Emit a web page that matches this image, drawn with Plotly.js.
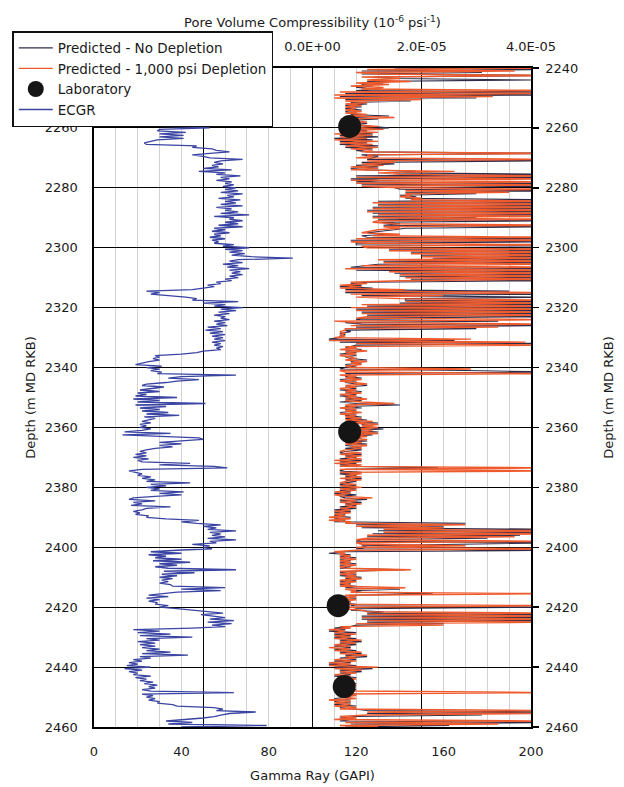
<!DOCTYPE html>
<html><head><meta charset="utf-8">
<script src="https://cdn.plot.ly/plotly-3.0.1.min.js"></script>
<style>html,body{margin:0;padding:0;background:#fff}#chart{width:624px;height:787px}</style>
</head><body><div id="chart"></div>
<script>
// Gamma ray log (GAPI), sampled every 0.5 m starting at 2255 m
const grTopDepth = 2255;
const grStep = 0.5;
const gammaRay = [
26,24,27,25,
24,27,29,26,29,31,53,30,
29,42,30,41,30,41,29,25,
23,24,47,45,54,56,62,53,
45,50,53,68,58,55,59,54,
57,50,63,48,60,56,67,58,
62,56,63,60,64,59,65,60,
66,58,68,61,64,57,67,60,
65,58,68,56,63,60,66,58,
71,55,64,62,68,60,66,57,
68,55,60,54,62,55,58,53,
60,54,57,55,64,59,71,60,
68,62,69,63,72,91,66,62,
68,59,66,61,71,62,67,63,
68,62,66,60,63,56,58,52,
55,50,45,24,30,26,36,42,
47,45,66,50,60,55,68,58,
65,57,62,55,60,58,62,55,
60,56,61,52,58,51,59,53,
60,54,59,55,60,54,58,55,
59,56,58,50,47,40,28,30,
27,30,25,22,19,31,24,30,
26,31,29,65,40,34,48,38,
33,24,22,32,25,21,30,20,
24,19,38,18,30,20,51,19,
33,21,30,22,34,24,39,23,
28,24,22,26,21,24,21,26,
22,14,35,13,28,48,50,42,
30,40,30,36,28,24,21,24,
19,24,18,25,20,22,44,30,
55,61,22,16,19,22,20,26,
22,28,24,44,26,33,24,30,
26,41,30,40,28,18,16,28,
18,22,17,35,24,22,18,21,
19,25,24,33,48,40,47,58,
50,56,52,65,53,58,54,60,
52,65,53,56,45,53,50,54,
38,26,40,25,33,28,40,27,
44,30,38,28,34,65,32,46,
31,38,30,36,31,34,30,35,
36,60,40,58,38,30,25,34,
24,30,25,29,28,34,30,38,
45,50,59,49,55,60,53,64,
52,63,54,60,45,18,30,20,
35,21,45,24,30,20,28,21,
28,22,30,24,35,22,43,21,
26,18,22,16,20,15,26,14,
22,16,20,18,26,19,24,21,
27,23,29,25,28,22,26,64,
22,27,24,28,25,30,29,36,
38,55,59,56,74,62,58,55,
50,40,33,45,34,79,40
];

// Pore volume compressibility, in units of 1E-05 1/psi, every 0.5 m from 2240 m
const compTopDepth = 2240;
const compStep = 0.5;
const compNoDepletion = [
1.5,4.5,0.9,3.1,0.9,4.5,1.1,1.5,4.0,1.0,
1.3,0.9,1.1,0.8,1.2,0.8,4.5,0.6,4.5,0.5,
3.0,0.6,1.8,0.7,1.0,0.6,0.9,0.6,0.9,0.6,
0.8,0.7,1.4,0.8,1.2,0.7,0.8,1.0,0.7,1.0,
1.4,0.8,1.0,0.5,1.1,0.5,1.2,0.4,1.1,0.5,
1.0,0.5,1.2,0.6,1.1,0.8,1.0,4.5,0.9,1.2,
1.1,1.0,4.5,0.9,1.5,0.8,1.2,0.7,1.0,1.9,
1.5,4.5,0.8,4.5,0.7,1.2,0.8,4.5,0.9,4.5,
1.5,1.6,4.5,1.7,3.0,1.6,1.9,1.7,4.5,1.2,
4.5,1.2,4.5,1.1,4.5,1.0,4.5,1.1,4.5,1.1,
3.0,1.2,4.5,1.2,1.6,1.3,4.5,1.7,1.5,1.2,
1.0,1.4,0.9,1.0,4.5,0.7,4.5,0.8,0.8,4.5,
4.5,1.4,4.5,1.8,4.5,2.0,4.5,2.2,4.5,1.3,
4.5,1.2,1.0,0.7,4.5,0.8,4.5,1.5,4.5,1.6,
4.5,1.8,4.5,1.0,0.7,0.9,0.5,1.1,0.6,3.6,
0.6,4.5,0.9,4.5,1.7,1.7,4.5,1.6,4.5,1.0,
4.5,0.8,4.5,0.9,4.5,1.0,4.5,0.9,0.8,3.4,
0.6,0.9,4.5,0.8,3.0,0.6,0.7,0.5,0.6,0.5,
0.5,0.3,2.6,0.5,4.5,0.8,0.7,0.6,0.9,0.6,
0.8,0.5,0.8,0.6,0.7,1.0,0.7,0.9,0.6,0.8,
0.6,0.5,2.8,4.5,0.6,0.7,0.6,0.9,0.5,0.8,
0.6,0.8,1.0,0.6,0.8,0.5,0.9,0.6,0.8,0.5,
0.9,0.6,0.9,0.5,0.8,1.6,0.6,0.9,0.6,0.8,
0.5,0.8,0.6,0.9,0.6,1.0,0.7,1.2,0.9,1.1,
0.9,1.3,0.8,1.2,0.9,1.1,0.6,0.9,0.6,1.0,
0.6,1.0,0.6,0.9,0.6,0.9,0.6,0.5,0.9,0.6,
0.8,0.5,0.9,0.5,0.8,0.5,0.9,2.3,0.6,0.5,
0.9,0.5,0.8,0.6,0.9,0.6,0.8,0.6,0.5,0.8,
0.5,0.8,0.5,0.7,0.4,0.8,0.5,0.6,1.0,0.5,
0.9,0.6,0.8,0.5,0.8,0.4,0.7,0.4,0.6,0.4,
0.7,0.4,0.6,0.4,2.8,0.8,2.4,0.9,4.5,1.2,
4.5,1.1,3.8,1.0,3.2,0.9,0.8,4.5,2.8,0.9,
1.0,0.8,4.5,0.6,0.3,0.7,0.5,0.8,0.5,0.7,
0.5,0.8,0.5,0.7,0.5,1.7,0.7,0.5,0.8,0.5,
0.9,0.6,0.8,0.5,0.7,0.5,0.8,0.6,1.6,0.7,
0.9,2.2,0.7,0.5,0.8,0.5,0.7,0.5,0.8,0.7,
4.5,0.8,0.7,1.3,1.0,4.5,0.9,4.5,0.9,4.5,
1.0,2.4,0.8,0.7,0.4,0.6,0.3,0.8,0.4,0.7,
0.4,0.8,0.5,0.9,0.5,0.8,0.4,0.7,0.4,0.8,
0.5,0.9,0.6,1.0,0.5,0.8,0.4,0.7,0.3,0.8,
0.4,1.1,0.5,0.9,0.5,0.7,0.4,0.8,0.5,0.7,
0.5,0.8,0.5,0.7,0.5,0.8,0.5,0.7,0.8,0.5,
0.7,0.4,0.7,0.4,0.7,0.4,0.8,0.5,0.8,1.0,
4.5,1.0,3.1,0.8,0.5,0.7,0.5,4.5,0.7,2.5,
0.6
];
const compDepletion = [
4.5,1.0,3.7,0.8,1.2,4.5,0.9,1.6,1.0,1.8,
0.8,1.4,0.7,1.3,0.9,4.5,0.5,4.5,0.4,3.3,
0.4,2.0,0.6,1.0,0.6,0.9,0.6,0.8,0.6,0.9,
0.6,1.0,0.7,1.5,0.8,0.6,1.0,0.7,0.8,1.2,
0.7,1.3,0.5,1.2,0.4,1.1,0.5,1.0,0.4,1.2,
0.5,1.1,0.6,1.2,0.7,1.1,0.9,4.5,1.0,1.1,
0.8,4.5,1.0,1.5,0.9,1.3,0.7,1.2,0.7,2.6,
1.2,1.6,4.5,0.8,4.5,0.7,4.5,0.8,4.5,0.9,
1.6,4.5,1.7,3.6,1.7,1.8,1.6,2.0,1.8,4.5,
1.1,4.5,1.2,4.5,1.1,4.5,1.0,4.5,1.2,4.5,
1.1,4.5,1.2,1.1,1.5,4.5,1.3,1.6,1.2,1.0,
0.9,1.6,1.1,4.5,0.8,4.5,0.7,1.0,4.5,0.9,
1.0,4.5,1.4,4.5,1.8,4.5,2.0,4.5,1.2,4.5,
1.3,4.5,0.9,4.5,0.6,4.5,1.4,4.5,1.6,4.5,
1.7,4.5,1.6,0.7,1.0,0.5,0.9,0.5,1.7,0.6,
4.5,0.7,2.4,0.8,1.6,4.5,1.7,4.5,0.9,4.5,
0.7,4.5,0.8,4.5,0.9,4.5,1.0,0.8,4.5,0.4,
0.8,4.5,0.7,3.4,0.6,0.6,0.5,0.6,0.5,0.6,
0.4,2.9,0.3,3.9,0.8,4.5,0.6,0.8,0.5,1.0,
0.6,0.8,0.5,0.7,0.8,0.6,1.0,0.7,0.9,0.6,
0.7,2.9,0.5,0.6,4.5,0.5,0.8,0.6,0.9,0.5,
0.7,1.0,0.6,0.8,0.5,0.8,0.6,0.9,0.5,0.8,
0.6,1.0,0.6,0.9,1.5,0.6,0.8,0.5,0.8,0.6,
0.9,0.5,0.8,0.6,0.9,0.6,1.1,0.7,1.2,0.9,
1.2,0.8,1.1,0.8,1.2,0.7,1.0,0.6,1.0,0.6,
0.9,0.6,1.0,0.7,0.9,0.6,0.5,0.9,0.5,0.9,
0.6,0.9,0.4,0.9,0.4,0.9,0.5,4.5,0.5,4.5,
0.5,0.9,0.6,0.9,0.5,0.9,0.6,0.5,0.8,0.5,
0.9,0.5,0.8,0.4,0.7,0.4,0.6,1.1,0.5,0.8,
0.5,0.9,0.6,0.8,0.5,0.7,0.4,0.7,0.4,0.6,
0.3,0.7,0.3,0.7,0.6,2.8,0.8,2.4,1.3,4.5,
1.3,4.5,1.0,3.7,1.0,0.8,4.5,0.8,0.9,2.8,
0.8,4.5,0.8,0.4,0.6,0.5,0.7,0.5,0.8,0.5,
0.7,0.5,0.8,0.5,0.6,1.8,0.5,0.8,0.5,0.8,
0.6,0.9,0.5,0.8,0.5,0.7,0.5,1.7,0.6,0.8,
0.7,4.5,0.6,0.8,0.5,0.8,0.5,0.7,0.6,4.5,
0.7,0.6,0.9,1.0,4.5,1.0,4.5,0.9,4.5,1.0,
4.5,0.8,2.4,0.5,0.7,0.3,0.6,0.4,0.8,0.4,
0.7,0.4,0.9,0.5,0.8,0.4,0.7,0.3,0.7,0.4,
0.9,0.5,1.0,0.6,0.8,0.4,0.8,0.3,0.7,0.3,
1.2,0.4,0.9,0.5,0.8,0.4,0.7,0.5,0.8,0.5,
0.7,0.5,0.8,0.5,0.7,0.5,0.8,4.5,0.5,0.8,
0.5,0.8,0.3,0.7,0.4,0.7,0.4,0.8,0.5,4.5,
1.0,4.2,1.0,0.5,0.8,0.4,4.5,0.6,3.4,0.5,
1.2
];

// Laboratory measurements
const labDepth = [2259.5, 2361.5, 2419.5, 2446.5];
const labComp = [0.68, 0.68, 0.47, 0.58];

// Tick labels
const grTickVals = [0, 40, 80, 120, 160, 200];
const compTickVals = [0, 2, 4];
const compTickText = ['0.0E+00', '2.0E-05', '4.0E-05'];
const depthTickValsLeft = [2260,2280,2300,2320,2340,2360,2380,2400,2420,2440,2460];
const depthTickValsRight = [2240,2260,2280,2300,2320,2340,2360,2380,2400,2420,2440,2460];

const FONT = 'DejaVu Sans, Verdana, sans-serif';

const traces = [
  {type:'scatter', mode:'lines', name:'Predicted - No Depletion',
   x: compNoDepletion, y0: compTopDepth, dy: compStep, xaxis:'x2', yaxis:'y',
   line:{color:'#2c2c4a', width:1.1}},
  {type:'scatter', mode:'lines', name:'Predicted - 1,000 psi Depletion',
   x: compDepletion, y0: compTopDepth, dy: compStep, xaxis:'x2', yaxis:'y',
   line:{color:'#ef5a2c', width:1.4}},
  {type:'scatter', mode:'markers', name:'Laboratory',
   x: labComp, y: labDepth, xaxis:'x2', yaxis:'y',
   marker:{color:'#151515', size:23}},
  {type:'scatter', mode:'lines', name:'ECGR',
   x: gammaRay, y0: grTopDepth, dy: grStep, xaxis:'x', yaxis:'y',
   line:{color:'#3a44a2', width:1.3}},
  {type:'scatter', mode:'lines', x:[null], y:[null], xaxis:'x', yaxis:'y2', showlegend:false, hoverinfo:'skip'},
  {type:'scatter', mode:'lines', x:[null], y:[null], xaxis:'x3', yaxis:'y', showlegend:false, hoverinfo:'skip'}
];

const layout = {
  width:624, height:787,
  margin:{l:92, r:93, t:68, b:60},
  paper_bgcolor:'#fff', plot_bgcolor:'#fff',
  font:{family:FONT, size:13, color:'#1a1a1a'},
  showlegend:true,
  legend:{x:-0.187, y:1.056, xanchor:'left', yanchor:'top',
          bgcolor:'#fff', bordercolor:'#111', borderwidth:1.5,
          font:{family:FONT, size:13.5, color:'#1a1a1a'},
          itemwidth:34, tracegroupgap:0},
  // bottom axis: Gamma Ray labels
  xaxis:{range:[0,200], tickvals:grTickVals, showgrid:false, zeroline:false,
         showline:true, linecolor:'#000', linewidth:1.6, ticks:'',
         ticklabelstandoff:12, tickfont:{size:13},
         title:{text:'Gamma Ray (GAPI)', font:{size:13}, standoff:12}},
  // grid axis (no labels): black every 50 GAPI, light grey every 10 GAPI
  xaxis3:{overlaying:'x', range:[0,200], dtick:50, tick0:0, showticklabels:false, ticks:'',
          showgrid:true, gridcolor:'#000', gridwidth:1, zeroline:false, showline:false,
          minor:{dtick:10, tick0:0, showgrid:true, gridcolor:'#d2d2d2', gridwidth:1}},
  // top axis: compressibility
  xaxis2:{overlaying:'x', side:'top', range:[-4,4], tickmode:'array',
          tickvals:compTickVals, ticktext:compTickText,
          showgrid:false, zeroline:false,
          showline:true, linecolor:'#000', linewidth:1.6, ticks:'',
          ticklabelstandoff:10, tickfont:{size:13},
          title:{text:'Pore Volume Compressibility (10<sup>-6</sup> psi<sup>-1</sup>)', font:{size:13}, standoff:8}},
  yaxis:{range:[2460,2240], tickvals:depthTickValsLeft, showgrid:true, gridcolor:'#000', gridwidth:1,
         zeroline:false, showline:true, linecolor:'#000', linewidth:1.6, ticks:'',
         ticklabelstandoff:12, tickfont:{size:13},
         title:{text:'Depth (m MD RKB)', font:{size:13}, standoff:6}},
  yaxis2:{overlaying:'y', side:'right', range:[2460,2240], tickvals:depthTickValsRight,
          showgrid:false, zeroline:false, showline:true, linecolor:'#000', linewidth:1.6,
          ticks:'outside', ticklen:6, tickwidth:1.4, tickcolor:'#000', tickfont:{size:13},
          ticklabelstandoff:4,
          title:{text:'Depth (m MD RKB)', font:{size:13}, standoff:26}}
};

Plotly.newPlot('chart', traces, layout, {displayModeBar:false, staticPlot:true});
</script>
</body></html>
